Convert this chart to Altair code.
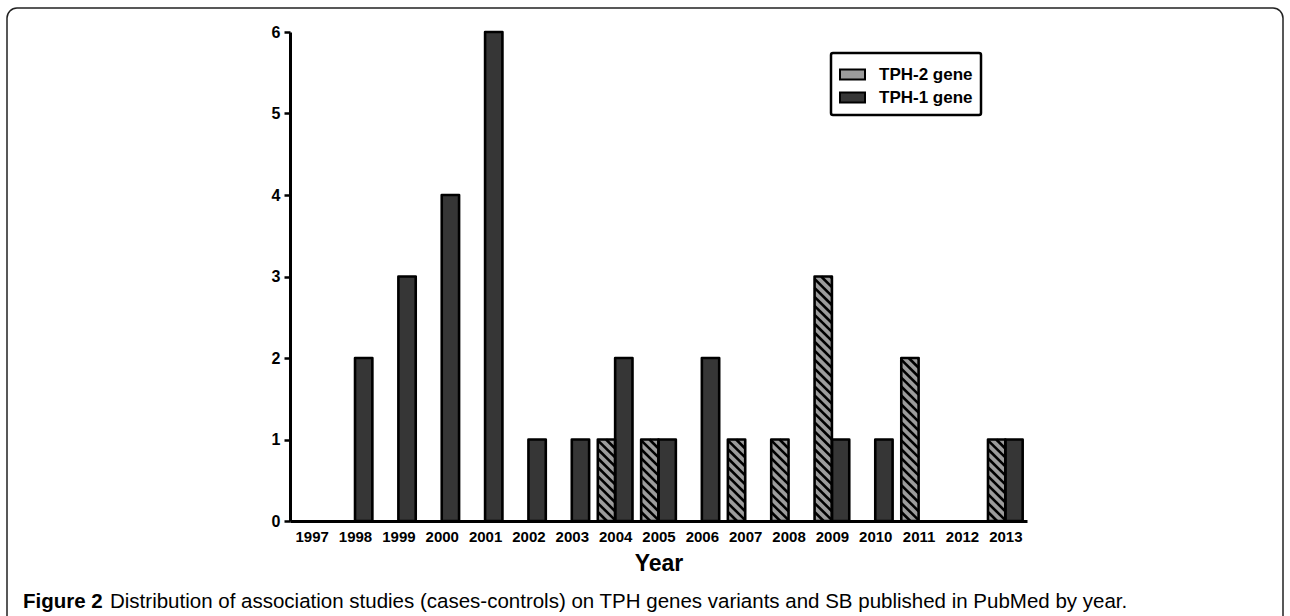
import altair as alt
import pandas as pd

# ---- data ----
years = list(range(1997, 2014))
tph2 = [0, 0, 0, 0, 0, 0, 0, 1, 1, 0, 1, 1, 3, 0, 2, 0, 1]
tph1 = [0, 2, 3, 4, 6, 1, 1, 2, 1, 2, 0, 0, 1, 1, 0, 0, 1]
genes = ["TPH-2 gene", "TPH-1 gene"]
y_ticks = [0, 1, 2, 3, 4, 5, 6]
x_title = "Year"
caption_bold = ["Figure 2"]
caption_rest = ["Distribution of association studies (cases-controls) on TPH genes variants and SB published in PubMed by year."]

rows = []
for yr, a, b in zip(years, tph2, tph1):
    rows.append({"year": yr, "gene": genes[0], "n": a})
    rows.append({"year": yr, "gene": genes[1], "n": b})
df = pd.DataFrame(rows)

FONT = "Liberation Sans"
BAR_W = 0.4     # bar width in year units
DY = 0.21       # hatch drop across a bar (y units)
S = 0.11        # hatch spacing (y units)

x_scale = alt.Scale(domain=[1996.5, 2013.5], nice=False, zero=False)
y_scale = alt.Scale(domain=[0, 6], nice=False)

x_axis = alt.Axis(values=years, format="d", ticks=False, tickSize=0, grid=False,
                  labelFont=FONT, labelFontWeight="bold", labelFontSize=15,
                  labelColor="black", labelPadding=8, labelFlush=False, labelOverlap=False,
                  domainColor="black", domainWidth=3,
                  title=x_title, titleFont=FONT, titleFontSize=23, titleFontWeight="bold",
                  titleColor="black", titlePadding=8)
y_axis = alt.Axis(values=y_ticks, format="d", grid=False, tickSize=6, tickWidth=2.5,
                  tickColor="black", labelFont=FONT, labelFontWeight="bold", labelFontSize=16,
                  labelColor="black", labelPadding=4, domainColor="black", domainWidth=3,
                  title=None)

bars_base = alt.Chart(df).transform_filter("datum.n > 0").transform_calculate(
    x0=f"datum.year - (datum.gene == '{genes[0]}' ? {BAR_W} : 0)"
).transform_calculate(
    x1=f"datum.x0 + {BAR_W}"
)

bars = bars_base.mark_bar(strokeWidth=0).encode(
    x=alt.X("x0:Q", scale=x_scale, axis=x_axis),
    x2="x1:Q",
    y=alt.Y("n:Q", scale=y_scale, axis=y_axis),
    y2=alt.datum(0),
    color=alt.Color("gene:N", title=None,
                    scale=alt.Scale(domain=genes, range=["#9c9c9c", "#363636"]),
                    legend=alt.Legend(orient="none", legendX=541, legendY=21,
                                      strokeColor="black", padding=8, fillColor="white",
                                      symbolType="M-1,-0.4H1V0.4H-1Z", symbolSize=625,
                                      symbolStrokeColor="black", symbolStrokeWidth=2,
                                      labelFont=FONT, labelFontSize=17, labelFontWeight="bold",
                                      labelColor="black", labelOffset=13, rowPadding=0)),
)

hatch = alt.Chart(df).transform_filter(
    f"datum.gene == '{genes[0]}' && datum.n > 0"
).transform_calculate(
    xl=f"datum.year - {BAR_W}"
).transform_calculate(
    k=f"sequence(1, ceil((datum.n + {DY}) / {S}) + 1)"
).transform_flatten(["k"]).transform_calculate(
    yk=f"datum.k * {S}"
).transform_calculate(
    ys="min(datum.yk, datum.n)"
).transform_calculate(
    ye=f"max(datum.yk - {DY}, 0)"
).transform_calculate(
    xs=f"datum.xl + (datum.yk - datum.ys) / {DY} * {BAR_W}"
).transform_calculate(
    xe=f"datum.xl + (datum.yk - datum.ye) / {DY} * {BAR_W}"
).transform_filter("datum.xe > datum.xs + 0.004").mark_rule(
    color="black", strokeWidth=2.6, strokeCap="butt"
).encode(
    x=alt.X("xs:Q", scale=x_scale, axis=x_axis),
    x2="xe:Q",
    y=alt.Y("ys:Q", scale=y_scale, axis=y_axis),
    y2="ye:Q",
)

outline = bars_base.mark_bar(fill="white", fillOpacity=0, stroke="black",
                             strokeWidth=2.6, strokeJoin="round").encode(
    x=alt.X("x0:Q", scale=x_scale, axis=x_axis),
    x2="x1:Q",
    y=alt.Y("n:Q", scale=y_scale, axis=y_axis),
    y2=alt.datum(0),
)

frame = alt.Chart(pd.DataFrame({"f": [0]})).mark_rect(
    fill="white", fillOpacity=0, stroke="#222222", strokeWidth=1.5, cornerRadius=10
).encode(
    x=alt.value(-283), x2=alt.value(993), y=alt.value(-24), y2=alt.value(640)
)

cap1 = alt.Chart(pd.DataFrame({"t": caption_bold})).mark_text(
    align="left", baseline="alphabetic", font=FONT, fontSize=20.5, fontWeight="bold", color="black"
).encode(x=alt.value(-267), y=alt.value(576), text="t:N")

cap2 = alt.Chart(pd.DataFrame({"t": caption_rest})).mark_text(
    align="left", baseline="alphabetic", font=FONT, fontSize=20.5, color="black"
).encode(x=alt.value(-180), y=alt.value(576), text="t:N")

chart = alt.layer(frame, bars, hatch, outline, cap1, cap2).properties(
    width=737, height=489,
    padding={"left": 290, "top": 32, "right": 263, "bottom": 95},
    autosize=alt.AutoSizeParams(type="none"),
    background="white",
).configure_view(stroke=None).configure_legend(
    strokeWidth=2.5, cornerRadius=2
)

chart.save("out.html", embed_options={"renderer": "svg", "actions": False})
